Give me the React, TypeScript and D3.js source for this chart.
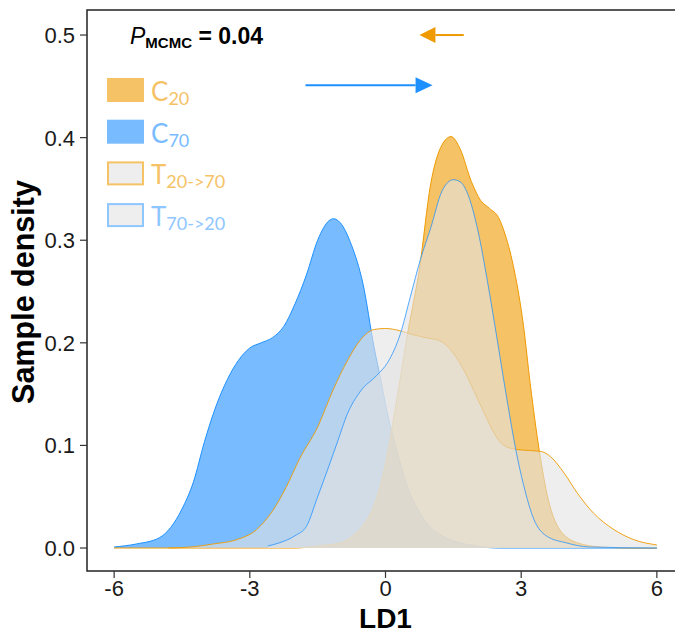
import React from "react";
import * as d3 from "d3";

const W = 675;
const H = 634;

// axis ticks
const xTicks = [-6, -3, 0, 3, 6];
const yTicks = [0, 0.1, 0.2, 0.3, 0.4, 0.5];

// [LD1, density] pairs
const c70Density = [
  [-6, 0.001], [-5.5, 0.004], [-5, 0.01], [-4.75, 0.02], [-4.5, 0.038], [-4.25, 0.064],
  [-4, 0.104], [-3.75, 0.138], [-3.5, 0.164], [-3.25, 0.183], [-3, 0.195], [-2.75, 0.2],
  [-2.5, 0.205], [-2.25, 0.216], [-2, 0.238], [-1.75, 0.266], [-1.5, 0.3], [-1.25, 0.319],
  [-1.15, 0.321], [-1, 0.317], [-0.75, 0.295], [-0.5, 0.258], [-0.25, 0.195], [-0.1, 0.163],
  [0, 0.14], [0.25, 0.095], [0.5, 0.058], [0.75, 0.035], [1, 0.02], [1.25, 0.012],
  [1.5, 0.007], [2, 0.002], [2.5, 0], [6, 0],
];

const c20Density = [
  [-6, 0], [-2, 0], [-1.5, 0.002], [-1, 0.005], [-0.75, 0.011], [-0.5, 0.022], [-0.25, 0.042],
  [0, 0.082], [0.25, 0.145], [0.5, 0.212], [0.75, 0.272], [1, 0.355], [1.25, 0.393],
  [1.45, 0.401], [1.65, 0.389], [1.9, 0.357], [2.1, 0.339], [2.3, 0.331], [2.5, 0.322],
  [2.65, 0.305], [2.85, 0.27], [3.05, 0.217], [3.2, 0.16], [3.4, 0.095], [3.6, 0.047],
  [3.85, 0.018], [4.25, 0.005], [4.75, 0.001], [5.5, 0], [6, 0],
];

const t2070Density = [
  [-4.8, 0], [-4.3, 0.001], [-3.8, 0.004], [-3.3, 0.008], [-2.85, 0.018], [-2.5, 0.036],
  [-2.2, 0.059], [-1.9, 0.087], [-1.5, 0.118], [-1.15, 0.155], [-0.85, 0.182], [-0.55, 0.203],
  [-0.25, 0.213], [0, 0.214], [0.3, 0.212], [0.6, 0.208], [0.9, 0.205], [1.2, 0.202],
  [1.5, 0.19], [1.75, 0.172], [2, 0.149], [2.2, 0.13], [2.4, 0.112], [2.62, 0.1],
  [2.9, 0.096], [3.2, 0.095], [3.45, 0.094], [3.65, 0.089], [3.95, 0.073], [4.25, 0.053],
  [4.6, 0.034], [5.05, 0.018], [5.5, 0.008], [6, 0.003],
];

const t7020Density = [
  [-2.6, 0.002], [-2.35, 0.005], [-2, 0.012], [-1.75, 0.021], [-1.5, 0.05], [-1.25, 0.08],
  [-1.05, 0.105], [-0.85, 0.13], [-0.55, 0.153], [-0.2, 0.168], [0.05, 0.181], [0.33, 0.209],
  [0.55, 0.245], [0.77, 0.281], [1, 0.312], [1.25, 0.348], [1.5, 0.359], [1.65, 0.357],
  [1.8, 0.347], [2.05, 0.308], [2.25, 0.261], [2.47, 0.203], [2.7, 0.141], [2.88, 0.096],
  [3.05, 0.062], [3.28, 0.028], [3.55, 0.012], [4, 0.005], [4.5, 0.001], [6, 0],
];

// legend text
const legendBase = ["C", "C", "T", "T"];
const legendSub = ["20", "70", "20->70", "70->20"];

// shift arrows: [from LD1, to LD1, density level]
const orangeArrow = [1.73, 0.75, 0.5];
const blueArrow = [-1.77, 1.04, 0.451];

const ORANGE = "#EE9A00";
const BLUE = "#1E90FF";

const layers = [
  { data: c70Density, fill: BLUE, stroke: BLUE, so: 1 },
  { data: c20Density, fill: ORANGE, stroke: ORANGE, so: 1 },
  { data: t2070Density, fill: "#E3E3E3", stroke: ORANGE, so: 0.9 },
  { data: t7020Density, fill: "#E3E3E3", stroke: BLUE, so: 0.75 },
];

const legendStyle = [
  { fill: "#F5C266", stroke: "#F5C266", text: "#F5C266" },
  { fill: "#78BCFF", stroke: "#78BCFF", text: "#78BCFF" },
  { fill: "#EEEEEE", stroke: "#F5C266", text: "#F5C266" },
  { fill: "#EEEEEE", stroke: "#8EC6FF", text: "#8EC6FF" },
];

export default function App() {
  const panel = { left: 87, right: 684, top: 10, bottom: 571 };

  const x = d3.scaleLinear().domain([-6.6, 6.6]).range([panel.left, panel.right]);
  const y = d3.scaleLinear().domain([-0.0224, 0.5244]).range([panel.bottom, panel.top]);

  const area = d3
    .area<number[]>()
    .x((d) => x(d[0]))
    .y0(y(0))
    .y1((d) => y(d[1]))
    .curve(d3.curveMonotoneX);
  const line = d3
    .line<number[]>()
    .x((d) => x(d[0]))
    .y((d) => y(d[1]))
    .curve(d3.curveMonotoneX);

  const axisFont = "'Liberation Sans', Arial, sans-serif";

  const arrow = (a: number[], color: string, headLen: number, headHalf: number) => {
    const x0 = x(a[0]);
    const x1 = x(a[1]);
    const yy = y(a[2]);
    const dir = Math.sign(x1 - x0);
    const base = x1 - dir * headLen;
    return (
      <g>
        <line x1={x0} y1={yy} x2={base} y2={yy} stroke={color} strokeWidth={2} />
        <path d={`M${x1},${yy}L${base},${yy - headHalf}L${base},${yy + headHalf}Z`} fill={color} />
      </g>
    );
  };

  return (
    <>
      <style>{`body{margin:0}`}</style>
      <svg width={W} height={H} style={{ display: "block", background: "#fff" }}>
        <defs>
          <clipPath id="panelClip">
            <rect x={panel.left} y={panel.top} width={panel.right - panel.left} height={panel.bottom - panel.top} />
          </clipPath>
        </defs>

        <g clipPath="url(#panelClip)">
          {layers.map((l, i) => (
            <g key={i}>
              <path d={area(l.data) || ""} fill={l.fill} fillOpacity={0.6} />
              <path d={line(l.data) || ""} fill="none" stroke={l.stroke} strokeOpacity={l.so} strokeWidth={1} />
            </g>
          ))}

          {arrow(orangeArrow, ORANGE, 16, 8)}
          {arrow(blueArrow, BLUE, 17, 8)}
        </g>

        {/* panel border */}
        <rect
          x={panel.left}
          y={panel.top}
          width={panel.right - panel.left}
          height={panel.bottom - panel.top}
          fill="none"
          stroke="#222"
          strokeWidth={1.5}
        />

        {/* y axis */}
        {yTicks.map((t) => (
          <g key={t}>
            <line x1={panel.left - 7} x2={panel.left} y1={y(t)} y2={y(t)} stroke="#333" strokeWidth={1.2} />
            <text
              x={panel.left - 12}
              y={y(t)}
              dy="0.36em"
              textAnchor="end"
              fontFamily={axisFont}
              fontSize={22}
              fill="#1a1a1a"
            >
              {d3.format(".1f")(t)}
            </text>
          </g>
        ))}

        {/* x axis */}
        {xTicks.map((t) => (
          <g key={t}>
            <line x1={x(t)} x2={x(t)} y1={panel.bottom} y2={panel.bottom + 7} stroke="#333" strokeWidth={1.2} />
            <text x={x(t)} y={596} textAnchor="middle" fontFamily={axisFont} fontSize={22} fill="#1a1a1a">
              {t}
            </text>
          </g>
        ))}

        <text x={x(0)} y={627.5} textAnchor="middle" fontFamily={axisFont} fontSize={28} fontWeight="bold" fill="#000">
          LD1
        </text>
        <text
          transform={`translate(34,292) rotate(-90)`}
          textAnchor="middle"
          fontFamily={axisFont}
          fontSize={30.5}
          fontWeight="bold"
          fill="#000"
        >
          Sample density
        </text>

        {/* P value */}
        <text x={130} y={44} fontFamily={axisFont} fontSize={23} fill="#000">
          <tspan fontStyle="italic">P</tspan>
          <tspan fontSize={15} fontWeight="bold" dy={4}>MCMC</tspan>
          <tspan fontWeight="bold" dy={-4}> = 0.04</tspan>
        </text>

        {/* legend */}
        {legendBase.map((b, i) => {
          const top = 78 + i * 41.7;
          const s = legendStyle[i];
          const filled = i < 2;
          return (
            <g key={i}>
              <rect
                x={filled ? 107 : 108}
                y={filled ? top : top + 1}
                width={filled ? 37 : 35}
                height={filled ? 24 : 22}
                fill={s.fill}
                stroke={filled ? "none" : s.stroke}
                strokeWidth={2}
              />
              <text x={151} y={top + 23} fontFamily="Lato, 'Open Sans', sans-serif" fontSize={26} fill={s.text}>
                {b}
                <tspan fontSize={18} dy={4}>{legendSub[i]}</tspan>
              </text>
            </g>
          );
        })}
      </svg>
    </>
  );
}
